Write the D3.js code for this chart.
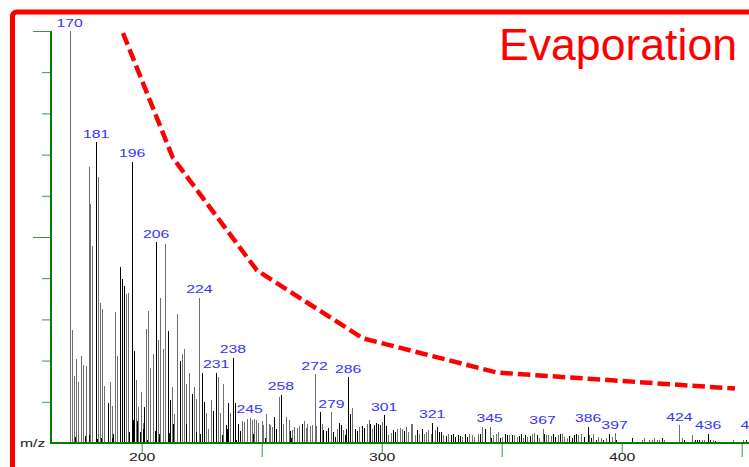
<!DOCTYPE html>
<html>
<head>
<meta charset="utf-8">
<script src="https://cdn.jsdelivr.net/npm/d3@7"></script>
<style>
  html, body { margin: 0; padding: 0; background: #fff; overflow: hidden; }
  svg { display: block; }
</style>
</head>
<body>
<svg id="chart" width="749" height="467"></svg>
<script>
// ---- Mass spectrum data (relative intensity, % of base peak) ----

// Peaks that carry an m/z label
const labelMz        = [170, 181, 196, 206, 224, 231, 238, 245, 258, 272, 279, 286, 301, 321, 345, 367, 386, 397, 424, 436, 455];
const labelIntensity = [100, 73.0, 68.3, 48.7, 35.3, 17.0, 20.7, 6.1, 11.7, 16.7, 7.5, 16.0, 6.7, 4.9, 3.9, 3.5, 3.9, 2.4, 4.3, 2.3, 2.3];

// Unlabelled peaks as [m/z, intensity]
const peaks170to200 = [
  [171.1, 27.4], [171.9, 16.2], [172.75, 20.4], [173.6, 14.8], [174.6, 21.2], [175.7, 19.0], [176.9, 18.7],
  [177.9, 67.0], [178.6, 58.0], [179.4, 47.8], [181.9, 64.5], [182.75, 33.9], [183.6, 32.6], [184.4, 13.8],
  [186.0, 9.8], [186.9, 14.8], [187.75, 8.9], [188.75, 31.8], [189.6, 21.2], [191.0, 42.8], [191.8, 39.9],
  [192.6, 38.1], [193.6, 36.1], [194.4, 36.4], [196.8, 22.3], [197.75, 15.2], [198.6, 8.7], [199.6, 12.4]
];
const peaks200to250 = [
  [200.4, 4.9], [201.0, 8.7], [201.9, 27.6], [202.75, 32.0], [203.6, 18.1], [204.6, 21.7], [206.9, 24.9],
  [207.75, 35.3], [208.75, 22.9], [209.6, 48.4], [211.0, 27.1], [211.8, 10.4], [212.75, 13.5], [213.6, 7.1],
  [214.6, 31.4], [216.0, 19.8], [216.9, 21.7], [217.75, 22.9], [218.6, 14.4], [219.6, 17.0], [221.0, 12.0],
  [221.9, 13.6], [222.75, 10.6], [225.1, 17.0], [226.0, 10.0], [226.9, 7.3], [227.75, 3.5], [228.75, 10.4],
  [229.7, 7.7], [231.9, 16.0], [232.75, 7.3], [233.75, 14.2], [235.1, 4.3], [236.0, 9.6], [236.9, 7.3],
  [238.9, 9.8], [240.1, 4.7], [241.0, 2.9], [241.9, 5.3], [242.75, 5.1], [243.75, 5.8], [246.1, 5.7],
  [246.9, 5.9], [247.75, 5.5], [248.6, 4.9]
];
const peaks250to300 = [
  [250.0, 5.4], [250.7, 4.3], [251.9, 7.1], [252.9, 4.7], [253.6, 4.3], [254.4, 3.9], [255.1, 6.3],
  [256.0, 3.5], [257.1, 11.2], [258.75, 4.7], [260.25, 6.3], [261.25, 5.7], [261.8, 2.8], [262.75, 3.1],
  [263.6, 3.9], [264.6, 3.7], [265.4, 4.1], [266.7, 4.7], [267.5, 5.3], [268.3, 3.7], [269.0, 4.6],
  [270.0, 4.1], [271.1, 4.3], [272.75, 4.1], [274.2, 7.5], [275.0, 4.7], [275.5, 3.2], [276.7, 2.8],
  [277.6, 3.7], [279.7, 2.7], [281.25, 3.5], [282.2, 4.9], [283.0, 4.3], [284.0, 3.1], [285.1, 3.5],
  [286.8, 7.1], [287.75, 8.5], [288.9, 3.5], [289.8, 2.8], [290.7, 3.9], [291.7, 4.1], [292.6, 3.7],
  [293.75, 4.7], [294.6, 5.5], [295.1, 4.7], [295.8, 3.5], [296.8, 4.3], [297.6, 4.9], [298.5, 4.7],
  [299.3, 4.3]
];
const peaks300to350 = [
  [300.25, 5.1], [301.8, 4.1], [302.75, 1.9], [303.75, 2.4], [304.7, 3.1], [305.5, 2.7], [306.5, 3.5],
  [307.5, 3.7], [308.3, 3.3], [309.3, 3.0], [310.25, 3.9], [311.1, 2.7], [312.1, 4.5], [312.75, 4.7],
  [313.75, 1.9], [314.7, 3.1], [315.7, 2.3], [316.7, 3.5], [317.75, 2.3], [318.6, 2.7], [319.4, 3.1],
  [320.4, 2.3], [322.1, 3.1], [323.0, 3.9], [323.9, 2.7], [324.8, 2.7], [325.7, 1.9], [326.7, 1.6],
  [327.75, 2.3], [328.9, 1.9], [329.7, 2.3], [330.5, 1.5], [331.7, 1.9], [332.6, 1.6], [333.6, 1.5],
  [334.7, 2.3], [335.5, 1.5], [336.5, 2.3], [337.5, 1.9], [338.6, 1.5], [340.0, 2.3], [341.0, 2.3],
  [341.9, 4.0], [343.0, 3.5], [345.5, 1.1], [346.5, 2.0], [347.5, 2.3], [348.3, 2.7], [349.2, 1.1]
];
const peaks350to400 = [
  [350.25, 1.5], [351.4, 2.3], [352.2, 1.9], [353.2, 2.0], [354.2, 1.9], [355.25, 1.9], [356.25, 1.5],
  [357.2, 1.6], [358.0, 2.3], [359.0, 1.3], [359.7, 1.9], [360.7, 1.5], [361.8, 1.6], [362.75, 2.3],
  [363.6, 2.4], [364.8, 1.9], [365.7, 1.3], [367.6, 2.3], [368.6, 1.9], [369.4, 2.0], [370.4, 1.6],
  [371.4, 2.3], [372.3, 1.5], [373.3, 1.9], [374.2, 2.3], [375.25, 2.3], [376.1, 1.5], [377.1, 1.1],
  [378.0, 1.6], [379.2, 1.3], [380.1, 1.9], [381.0, 2.3], [381.9, 1.9], [382.9, 2.3], [384.2, 1.5],
  [386.25, 1.9], [387.2, 1.3], [388.2, 2.3], [389.2, 0.8], [390.25, 1.5], [391.25, 1.1], [392.3, 0.7],
  [393.3, 1.3], [394.7, 2.3], [395.8, 1.5], [397.6, 0.8], [398.6, 0.3]
];
const peaks400plus = [
  [400.25, 0.3], [401.4, 0.3], [402.75, 0.3], [404.2, 1.1], [405.5, 0.3], [406.9, 0.3], [408.3, 0.7],
  [409.4, 1.1], [410.4, 0.3], [411.5, 0.8], [412.5, 0.8], [413.6, 1.1], [414.6, 0.8], [415.7, 0.8],
  [416.7, 1.3], [417.75, 0.8], [418.75, 0.3], [420.1, 0.3], [421.5, 0.3], [422.5, 0.3], [425.0, 1.3],
  [426.0, 0.7], [427.1, 0.3], [429.4, 2.0], [430.5, 0.7], [431.4, 0.7], [432.3, 0.8], [433.6, 0.8],
  [434.4, 0.7], [436.75, 0.7], [437.9, 0.7], [438.9, 0.5], [440.25, 0.3], [441.7, 0.3], [445.1, 0.3],
  [446.5, 0.7], [448.6, 0.3], [450.7, 0.8], [451.7, 0.7]
];
// Low-level signal sitting under the main clusters
const minorPeaks = [
  [172.25, 1.5], [176.4, 1.6], [178.2, 1.9], [181.5, 0.9], [183.2, 1.1], [187.5, 1.1], [188.2, 2.1],
  [194.8, 2.7], [196.25, 5.5], [198.2, 5.4], [199.3, 2.7], [200.7, 3.3], [202.1, 0.8], [205.5, 2.9],
  [207.3, 2.1], [211.5, 2.4], [213.2, 4.7], [218.3, 4.5], [222.5, 2.7], [224.3, 2.1], [233.3, 1.9],
  [235.7, 3.5], [239.2, 0.8], [246.5, 2.3], [251.2, 1.1], [262.0, 1.3], [280.5, 1.5], [284.6, 1.9]
];

// Evaporation trend drawn over the spectrum
const trendMz    = [192.2, 213.0, 248.0, 292.2, 348.0, 447.2];
const trendLevel = [99.5, 69.2, 41.9, 25.4, 17.1, 13.2];

// Axis ticks
const xLabelTicks = [200, 300, 400];
const xPlainTicks = [250, 350, 450];
const yMajorTicks = [50, 100];
const yMinorTicks = [10, 20, 30, 40, 60, 70, 80, 90];

// ---- Drawing ----
const W = 749, H = 467;
const svg = d3.select("#chart");
const FONT = "'Liberation Sans', Arial, Helvetica, sans-serif";
const GREEN = "#008000";
const RED = "#ff0000";

const x = d3.scaleLinear().domain([200, 400]).range([141.7, 621.7]);
const y = d3.scaleLinear().domain([0, 100]).range([443, 31]);
const axisX0 = 51;

// red frame
svg.append("rect")
  .attr("x", 12.5).attr("y", 12)
  .attr("width", 800).attr("height", 520)
  .attr("rx", 4)
  .attr("fill", "none")
  .attr("stroke", RED)
  .attr("stroke-width", 5);

// spectrum bars: 1px sticks snapped to the pixel grid
const labelled = labelMz.map((m, i) => [m, labelIntensity[i]]);
const mainPeaks = [].concat(peaks170to200, peaks200to250, peaks250to300,
                            peaks300to350, peaks350to400, peaks400plus, labelled);

function column(m) { return Math.round(x(m)) + 0.5; }
function tone(m) {
  const px = x(m);
  return Math.abs(px - Math.round(px)) > 0.25 ? "#6f6f6f" : "#000";
}

const bars = svg.append("g").attr("shape-rendering", "crispEdges");
bars.selectAll("line.peak")
  .data(mainPeaks)
  .join("line")
  .attr("class", "peak")
  .attr("x1", d => column(d[0])).attr("x2", d => column(d[0]))
  .attr("y1", y(0)).attr("y2", d => y(d[1]))
  .attr("stroke", d => tone(d[0]))
  .attr("stroke-width", 1);

bars.selectAll("line.minor")
  .data(minorPeaks)
  .join("line")
  .attr("class", "minor")
  .attr("x1", d => column(d[0])).attr("x2", d => column(d[0]))
  .attr("y1", y(0)).attr("y2", d => y(d[1]))
  .attr("stroke", "#000")
  .attr("stroke-width", 1);

// y axis
function styleAxis(g) {
  g.selectAll(".tick line").attr("stroke", "#3a963a");
  g.attr("font-family", FONT);
}
const yMinor = svg.append("g").attr("transform", `translate(${axisX0},0)`)
  .call(d3.axisLeft(y).tickValues(yMinorTicks).tickSize(9).tickSizeOuter(0).tickFormat(""));
yMinor.select(".domain").remove();
styleAxis(yMinor);

const yMajor = svg.append("g").attr("transform", `translate(${axisX0},0)`)
  .call(d3.axisLeft(y).tickValues(yMajorTicks).tickSize(18).tickSizeOuter(0).tickFormat(""));
yMajor.select(".domain").attr("stroke", GREEN).attr("stroke-width", 2)
  .attr("d", `M0,${y(0) + 1}V${y(100)}`);
styleAxis(yMajor);

// x axis
const xPlain = svg.append("g").attr("transform", `translate(0,${y(0)})`)
  .call(d3.axisBottom(x).tickValues(xPlainTicks).tickSize(14).tickSizeOuter(0).tickFormat(""));
xPlain.select(".domain").remove();
styleAxis(xPlain);

const xLab = svg.append("g").attr("transform", `translate(0,${y(0)})`)
  .call(d3.axisBottom(x).tickValues(xLabelTicks).tickSize(10).tickSizeOuter(0).tickFormat(d3.format("d")));
xLab.select(".domain").remove();
styleAxis(xLab);
xLab.selectAll(".tick text")
  .attr("y", 18.5).attr("dy", null)
  .attr("transform", "scale(1.5,1)")
  .attr("font-size", 10.5)
  .attr("fill", "#222");

// baseline
svg.append("line")
  .attr("x1", axisX0 - 1).attr("x2", W)
  .attr("y1", y(0)).attr("y2", y(0))
  .attr("stroke", GREEN).attr("stroke-width", 2);

// axis caption
svg.append("text")
  .attr("transform", `translate(20,447) scale(1.5,1)`)
  .attr("font-family", FONT).attr("font-size", 10.5)
  .attr("fill", "#222")
  .text("m/z");

// peak labels
svg.append("g").selectAll("text")
  .data(labelled)
  .join("text")
  .attr("transform", d => `translate(${x(d[0])},${y(d[1]) - 4.5}) scale(1.5,1)`)
  .attr("text-anchor", "middle")
  .attr("font-family", FONT).attr("font-size", 10.5)
  .attr("fill", "#3333ff")
  .text(d => d[0]);

// evaporation trend
const trend = trendMz.map((m, i) => [m, trendLevel[i]]);
svg.append("path")
  .datum(trend)
  .attr("d", d3.line().x(d => x(d[0])).y(d => y(d[1])))
  .attr("fill", "none")
  .attr("stroke", RED)
  .attr("stroke-width", 4.5)
  .attr("stroke-dasharray", "12.5,5");

svg.append("text")
  .attr("x", 499).attr("y", 60)
  .attr("font-family", FONT).attr("font-size", 44.6)
  .attr("fill", RED)
  .text("Evaporation");
</script>
</body>
</html>
